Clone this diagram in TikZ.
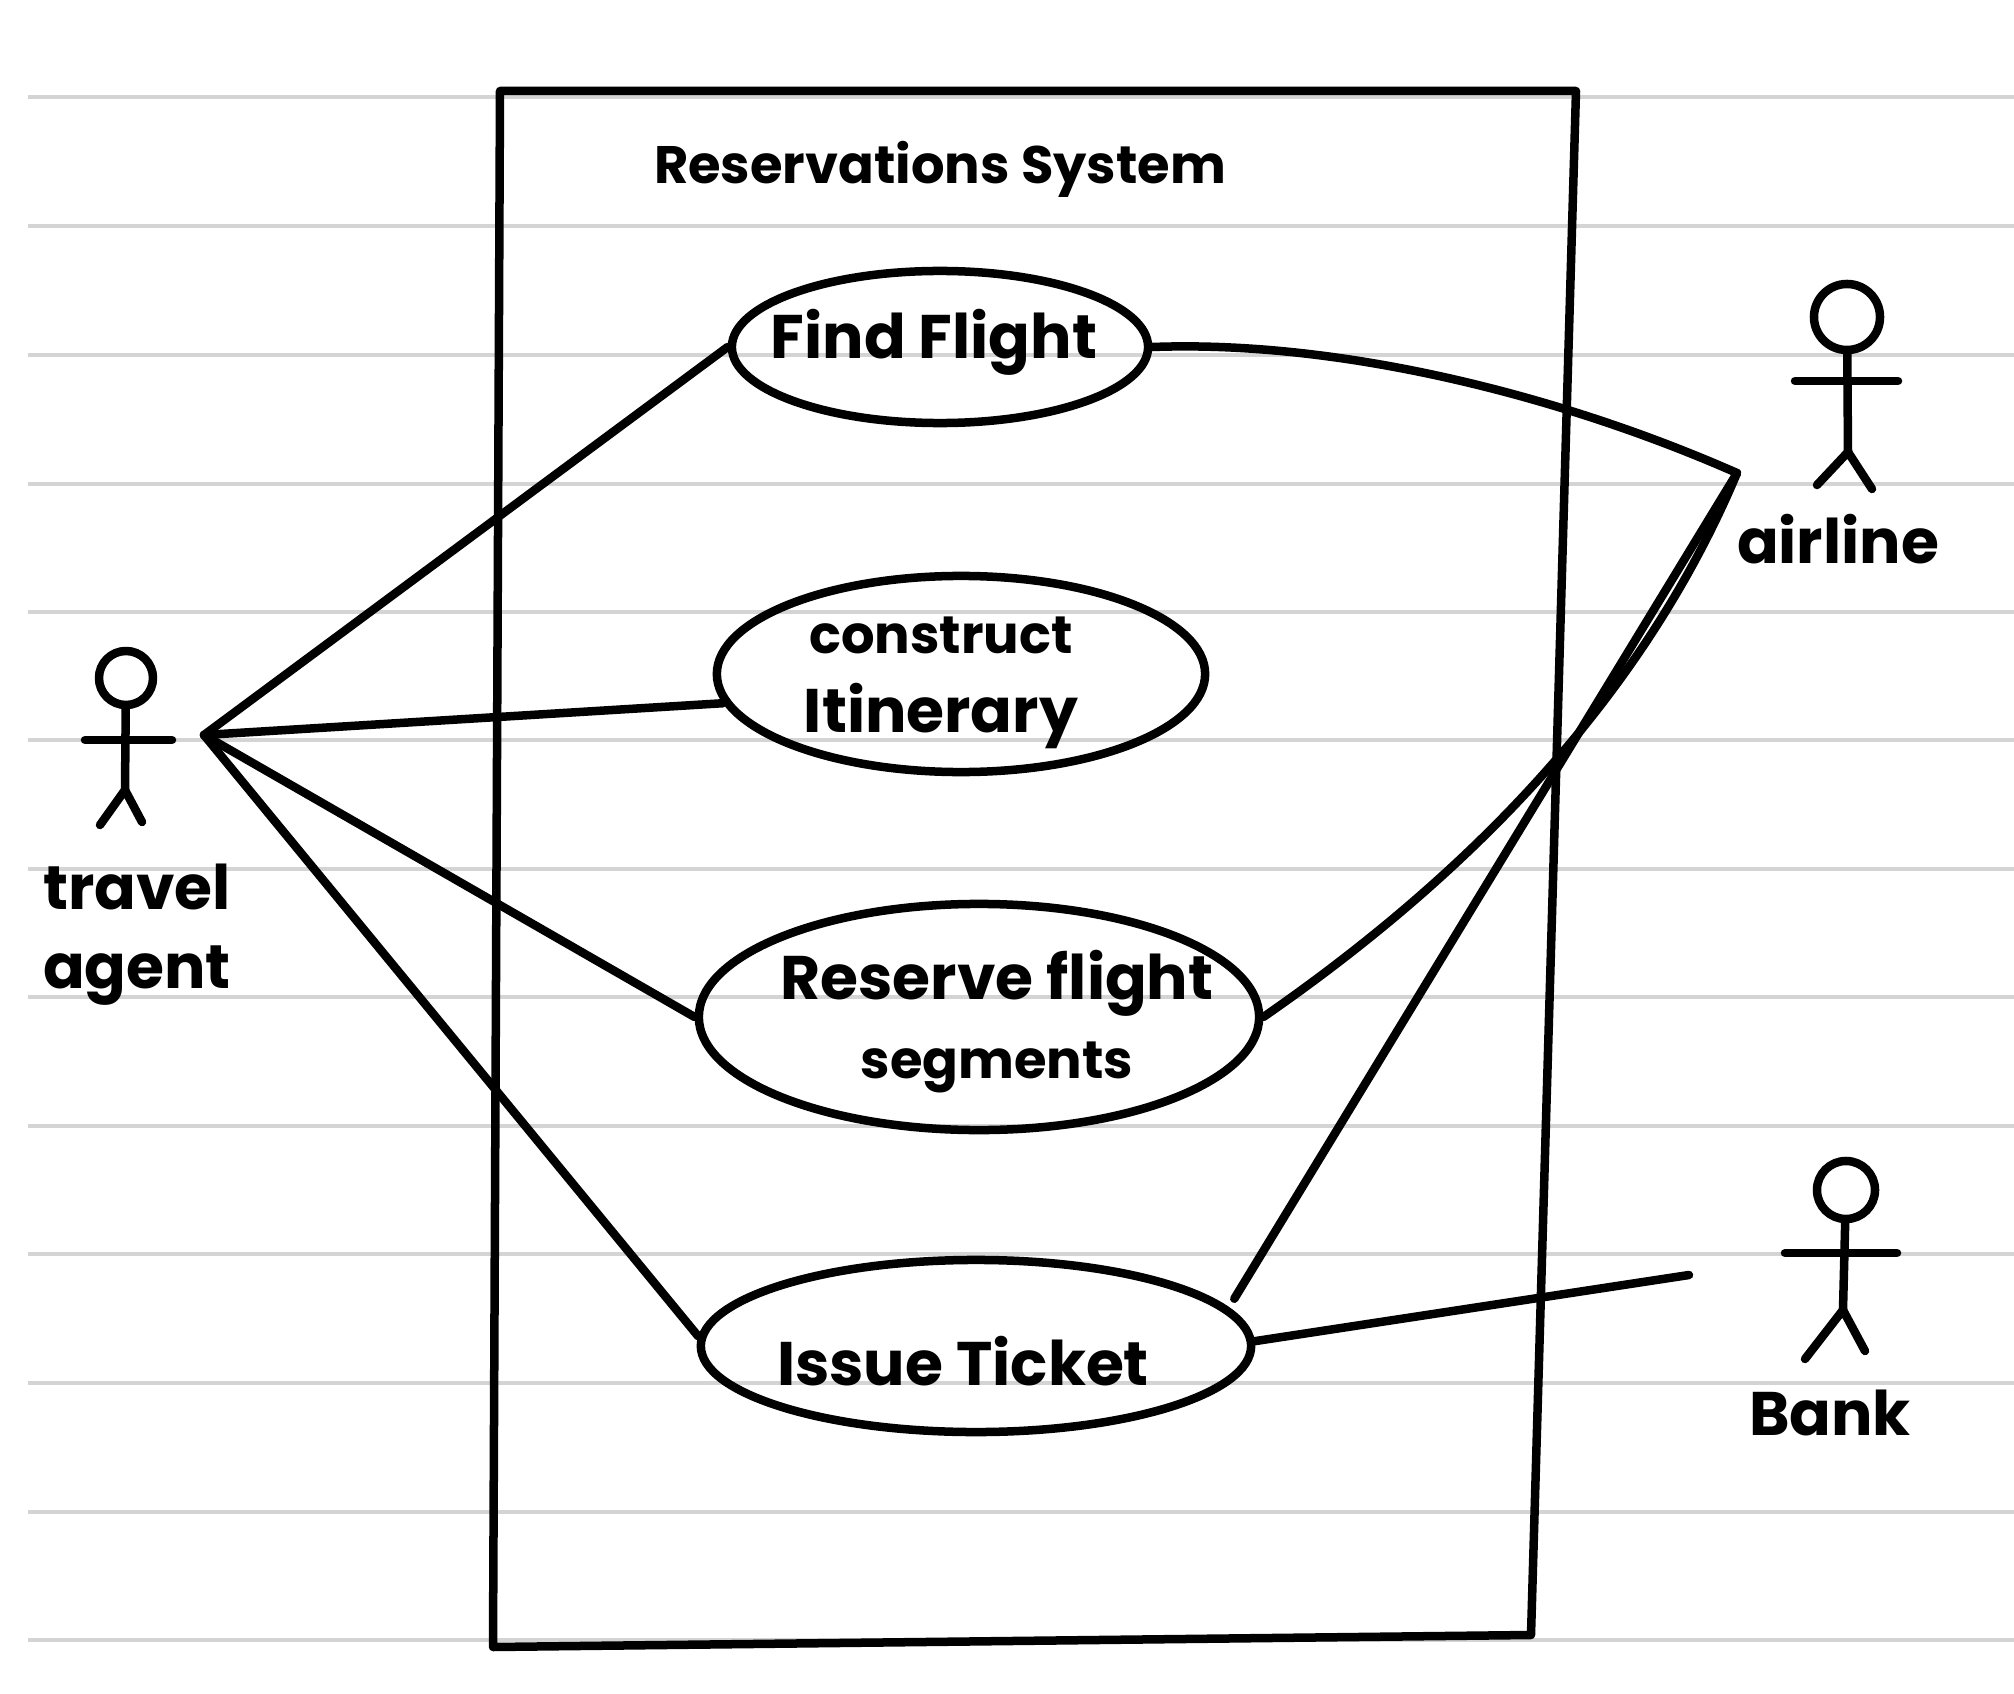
\documentclass[tikz,border=0pt]{standalone}
\usepackage{fontspec}
\setmainfont{Poppins}
\usetikzlibrary{shapes.geometric}
\newcommand{\handsmall}{\fontsize{15}{22.5}\selectfont}
\newcommand{\handbig}{\fontsize{17.5}{22.5}\selectfont}
\tikzset{
  ruled/.style={draw=black!17, line width=0.04cm},
  stroke/.style={line width=0.085cm, line cap=round, line join=round},
  usecase/.style={draw, ellipse, stroke, inner sep=0pt},
  head/.style={draw, circle, stroke, inner sep=0pt},
  hand/.style={inner sep=0pt, align=center, font=\bfseries\handbig}
}
\begin{document}
\begin{tikzpicture}[x=0.01cm, y=-0.01cm]
\useasboundingbox (0,0) rectangle (2014,1694);
% ruled paper
\foreach \rowy in {97,226,355,484,612,740,869,997,1126,1254,1383,1512,1640}
  \draw[ruled] (28,\rowy) -- (2014,\rowy);

% system box
\draw[stroke] (500,91) -- (1576,91) -- (1531,1635) -- (493,1647) -- cycle;
\node[hand, font=\bfseries\handsmall] (title) at (940,169) {Reservations System};

% use cases
\node[usecase, minimum width=4.16cm, minimum height=1.52cm,
  label={[hand, name=findtext, xshift=-0.06cm, yshift=0.05cm]center:Find Flight}] (find) at (940,347) {};
\node[usecase, minimum width=4.88cm, minimum height=1.96cm,
  label={[hand, name=itinerarytext, xshift=-0.20cm, yshift=-0.09cm]center:{{\handsmall construct}\\Itinerary}}] (itinerary) at (961,674) {};
\node[usecase, minimum width=5.60cm, minimum height=2.26cm,
  label={[hand, name=reservetext, xshift=0.18cm, yshift=-0.05cm]center:{Reserve flight\\{\handsmall segments}}}] (reserve) at (979,1017) {};
\node[usecase, minimum width=5.50cm, minimum height=1.72cm,
  label={[hand, name=issuetext, xshift=-0.13cm, yshift=-0.15cm]center:Issue Ticket}] (issue) at (976,1346) {};

% travel agent
\node[head, minimum size=0.54cm] (agenthead) at (126,678) {};
\coordinate (agenthip) at (125,790);
\draw[stroke] (agenthead) -- (agenthip);
\draw[stroke] (85,740) -- (172,740); % arms
\draw[stroke] (100,825) -- (agenthip) -- (142,822); % legs
\node[hand] (agent) at (137,935) {travel\\agent};

% airline
\node[head, minimum size=0.66cm] (airlinehead) at (1847,317) {};
\coordinate (airlinehip) at (1848,452);
\draw[stroke] (airlinehead) -- (airlinehip);
\draw[stroke] (1795,381) -- (1898,381); % arms
\draw[stroke] (1817,485) -- (airlinehip) -- (1872,489); % legs
\node[hand] (airline) at (1838,539) {airline};

% bank
\node[head, minimum size=0.58cm] (bankhead) at (1846,1190) {};
\coordinate (bankhip) at (1843,1310);
\draw[stroke] (bankhead) -- (bankhip);
\draw[stroke] (1785,1253) -- (1897,1253); % arms
\draw[stroke] (1805,1359) -- (bankhip) -- (1865,1351); % legs
\node[hand] (bank) at (1830,1413) {Bank};

% connectors
\coordinate (agentend) at (204,735);
\coordinate (airlineend) at (1737,473);
\coordinate (bankend) at (1689,1275);
\draw[stroke] (agentend) -- (find.west);
\draw[stroke] (agentend) -- (itinerary.187);
\draw[stroke] (agentend) -- (reserve.west);
\draw[stroke] (agentend) -- (issue.178);
\draw[stroke] (find.east) .. controls (1340,340) and (1560,395) .. (airlineend);
\draw[stroke] (reserve.east) .. controls (1490,860) and (1650,680) .. (airlineend);
\draw[stroke] ([xshift=0.13cm, yshift=0.04cm]issue.10) -- (airlineend);
\draw[stroke] (issue.1) -- (bankend);
\end{tikzpicture}
\end{document}
